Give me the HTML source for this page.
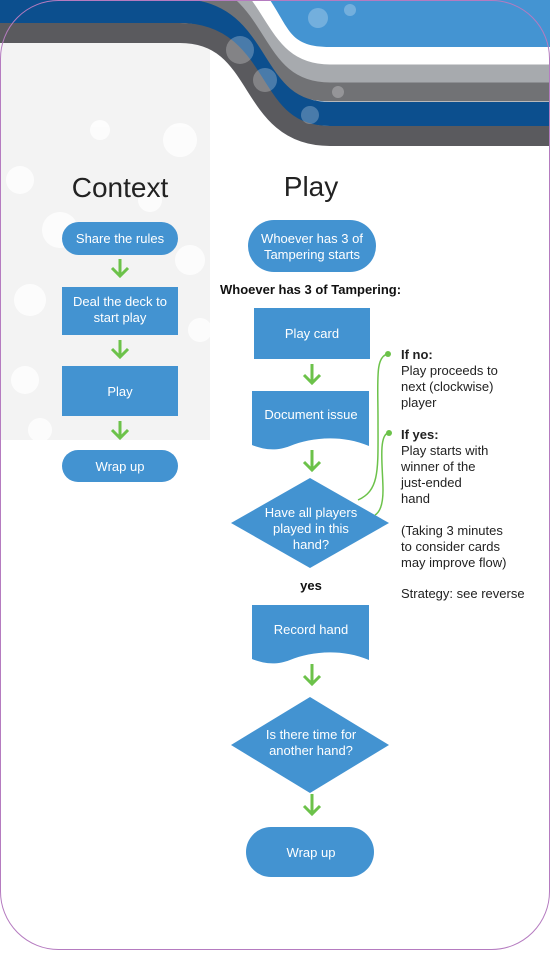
<!DOCTYPE html>
<html><head><meta charset="utf-8"><style>
body{margin:0;width:550px;height:950px;overflow:hidden;background:#fff;font-family:"Liberation Sans",sans-serif}
svg text{font-family:"Liberation Sans",sans-serif}
</style></head><body>
<svg width="550" height="950" viewBox="0 0 550 950" xmlns="http://www.w3.org/2000/svg">
<rect x="0" y="0" width="210" height="440" fill="#f3f3f3"/>
<g fill="#fff" opacity="0.8">
<circle cx="20" cy="180" r="14"/><circle cx="60" cy="230" r="18"/><circle cx="30" cy="300" r="16"/><circle cx="180" cy="140" r="17"/><circle cx="150" cy="200" r="12"/><circle cx="190" cy="260" r="15"/><circle cx="25" cy="380" r="14"/><circle cx="100" cy="130" r="10"/><circle cx="200" cy="330" r="12"/><circle cx="40" cy="430" r="12"/>
</g>
<path d="M270,0 C290,30 290,47 330,47 L550,47 L550,0 Z" fill="#4494d2"/>
<g fill="none">
<path d="M-10,-29 L180,-29 C265,-29 245,74 330,74 L560,74" stroke="#a7aaae" stroke-width="19"/>
<path d="M-10,-11 L180,-11 C265,-11 245,92 330,92 L560,92" stroke="#717275" stroke-width="19"/>
<path d="M-10,11 L180,11 C265,11 245,114 330,114 L560,114" stroke="#0c4f8e" stroke-width="24"/>
<path d="M-10,33 L180,33 C265,33 245,136 330,136 L560,136" stroke="#5a5a5e" stroke-width="20"/>
</g>
<g fill="#fff" opacity="0.25"><circle cx="318" cy="18" r="10"/><circle cx="350" cy="10" r="6"/><circle cx="240" cy="50" r="14"/><circle cx="265" cy="80" r="12"/><circle cx="310" cy="115" r="9"/><circle cx="338" cy="92" r="6"/></g>
<rect x="0.5" y="0.5" width="549" height="949" rx="58" fill="none" stroke="#b57bc0" stroke-width="1"/>
<text x="120" y="197" text-anchor="middle" font-size="28" fill="#222" font-weight="300">Context</text>
<text x="311" y="196" text-anchor="middle" font-size="28" fill="#222">Play</text>
<g fill="#4393d1">
<rect x="62" y="222" width="116" height="33" rx="16.5"/>
<rect x="62" y="287" width="116" height="48"/>
<rect x="62" y="366" width="116" height="50"/>
<rect x="62" y="450" width="116" height="32" rx="16"/>
<rect x="248" y="220" width="128" height="52" rx="26"/>
<rect x="254" y="308" width="116" height="51"/>
<path d="M252,391 H369 V446 C340,434 310,438 290,446 C275,452 262,449 252,445 Z"/>
<path d="M231,523 L310,478 L389,523 L310,568 Z"/>
<path d="M252,605 H369 V660 C340,648 310,652 290,660 C275,666 262,663 252,659 Z"/>
<path d="M231,745 L310,697 L389,745 L310,793 Z"/>
<rect x="246" y="827" width="128" height="50" rx="25"/>
</g>
<g fill="#fff" font-size="13" text-anchor="middle">
<text x="120" y="243">Share the rules</text>
<text x="120" y="306">Deal the deck to</text><text x="120" y="322">start play</text>
<text x="120" y="396">Play</text>
<text x="120" y="471">Wrap up</text>
<text x="312" y="243">Whoever has 3 of</text><text x="312" y="259">Tampering starts</text>
<text x="312" y="338">Play card</text>
<text x="311" y="419">Document issue</text>
<text x="311" y="517">Have all players</text><text x="311" y="533">played in this</text><text x="311" y="549">hand?</text>
<text x="311" y="634">Record hand</text>
<text x="311" y="739">Is there time for</text><text x="311" y="755">another hand?</text>
<text x="311" y="857">Wrap up</text>
</g>
<text x="220" y="294" font-size="13" font-weight="bold" fill="#111">Whoever has 3 of Tampering:</text>
<text x="311" y="590" font-size="13" font-weight="bold" fill="#111" text-anchor="middle">yes</text>
<g stroke="#6cc24a" stroke-width="3" fill="none">
<path d="M120,259 V276 M112,268 L120,276 L128,268"/>
<path d="M120,340 V357 M112,349 L120,357 L128,349"/>
<path d="M120,421 V438 M112,430 L120,438 L128,430"/>
<path d="M312,364 V383 M304,375 L312,383 L320,375"/>
<path d="M312,450 V470 M304,462 L312,470 L320,462"/>
<path d="M312,664 V684 M304,676 L312,684 L320,676"/>
<path d="M312,794 V814 M304,806 L312,814 L320,806"/>
</g>
<g stroke="#6cc24a" stroke-width="1.5" fill="none">
<path d="M388,354 C375,356 378,380 378,420 C378,470 380,490 358,500"/>
<path d="M388,433 C378,436 383,470 383,490 C383,505 380,512 375,515"/>
</g>
<circle cx="388" cy="354" r="3" fill="#6cc24a"/><circle cx="389" cy="433" r="3" fill="#6cc24a"/>
<g font-size="13" fill="#222">
<text x="401" y="359" font-weight="bold">If no:</text>
<text x="401" y="375">Play proceeds to</text><text x="401" y="391">next (clockwise)</text><text x="401" y="407">player</text>
<text x="401" y="439" font-weight="bold">If yes:</text>
<text x="401" y="455">Play starts with</text><text x="401" y="471">winner of the</text><text x="401" y="487">just-ended</text><text x="401" y="503">hand</text>
<text x="401" y="535">(Taking 3 minutes</text><text x="401" y="551">to consider cards</text><text x="401" y="567">may improve flow)</text>
<text x="401" y="598">Strategy: see reverse</text>
</g>
</svg>
</body></html>
